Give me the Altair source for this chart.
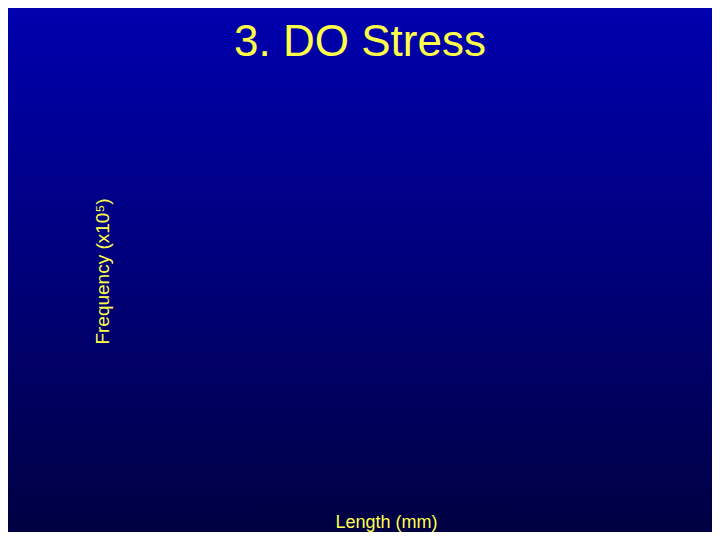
import altair as alt
import pandas as pd

# Slide content (the chart area is empty in the reference)
title_text = ["3. DO Stress"]
x_title = ["Length (mm)"]
y_title = ["Frequency (x10⁵)"]

# Background frame spanning the full scale domain
frame_x = [0.0, 1.0]
frame_y = [0.0, 1.0]

df = pd.DataFrame({"x0": [frame_x[0]], "x1": [frame_x[1]],
                   "y0": [frame_y[0]], "y1": [frame_y[1]]})

W, H = 704, 524
YELLOW = "#FFFF4A"

gradient = alt.Gradient(
    gradient="linear",
    stops=[alt.GradientStop(color="#0000AE", offset=0),
           alt.GradientStop(color="#00007A", offset=0.5),
           alt.GradientStop(color="#000042", offset=1)],
    x1=0, x2=0, y1=0, y2=1,
)

chart = alt.Chart(df).mark_rect(color=gradient).encode(
    x=alt.X("x0:Q", scale=alt.Scale(domain=[0, 1], nice=False, zero=False),
            axis=alt.Axis(title=x_title[0], labels=False, ticks=False, domain=False,
                          grid=False, titleX=378, titleY=-5, titleBaseline="alphabetic",
                          titleAlign="center", titleColor=YELLOW, titleFont="Liberation Sans",
                          titleFontSize=18, titleFontWeight="normal", zindex=2)),
    x2="x1:Q",
    y=alt.Y("y0:Q", scale=alt.Scale(domain=[0, 1], nice=False, zero=False),
            axis=alt.Axis(title=y_title[0], labels=False, ticks=False, domain=False,
                          grid=False, titleX=100, titleY=263, titleAngle=-90,
                          titleBaseline="alphabetic", titleAlign="center",
                          titleColor=YELLOW, titleFont="Liberation Sans",
                          titleFontSize=19, titleFontWeight="normal", zindex=2)),
    y2="y1:Q",
).properties(
    width=W, height=H,
    title=alt.TitleParams(text=title_text[0], color=YELLOW, font="Liberation Sans",
                          fontSize=44, fontWeight="normal", anchor="middle",
                          frame="group", baseline="alphabetic", offset=-92),
    autosize=alt.AutoSizeParams(type="none"),
    padding=0,
).configure(background="#000080").configure_view(stroke=None)

chart.save("out.html", embed_options={"renderer": "svg", "actions": False})
